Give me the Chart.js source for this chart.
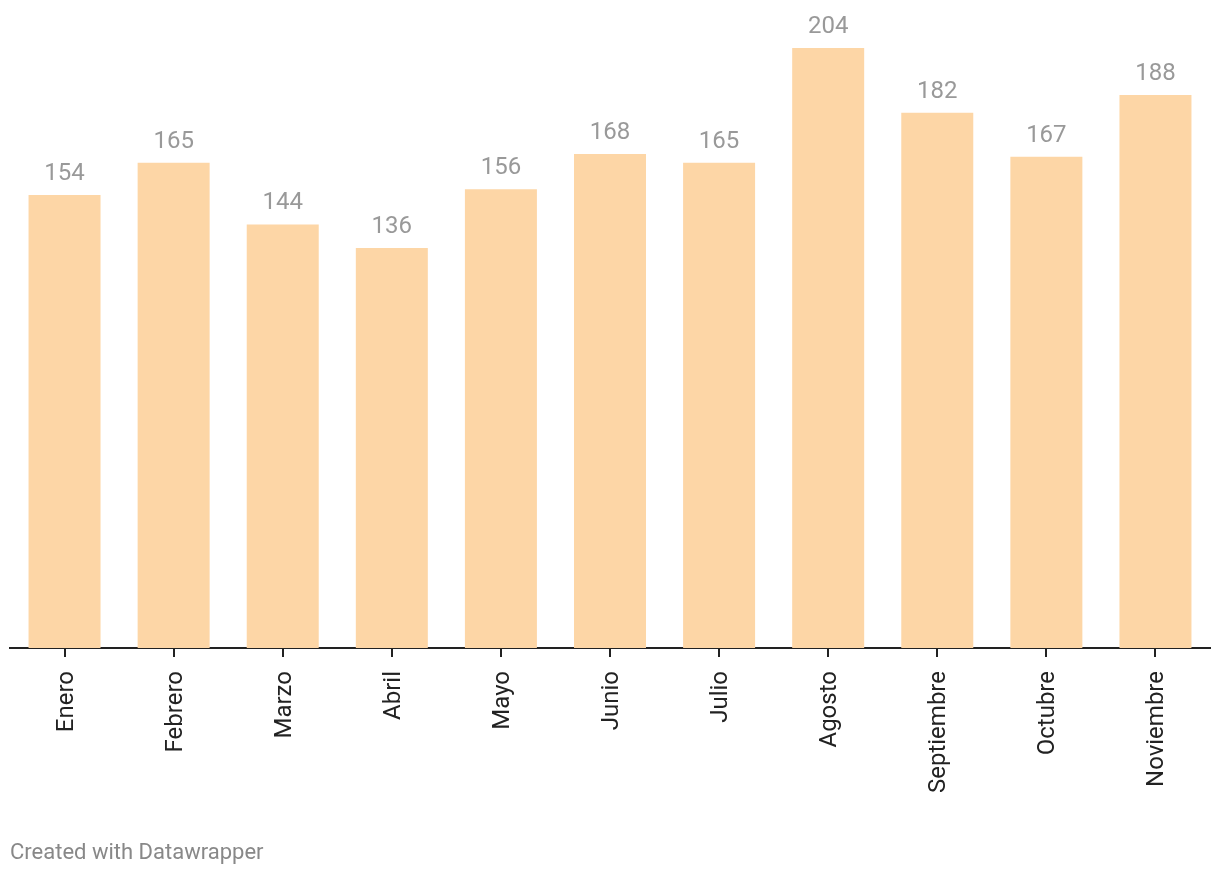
<!DOCTYPE html>
<html lang="es">
<head>
    <meta charset="UTF-8" />
    <title>Datawrapper bar chart</title>
    <script src="https://cdn.jsdelivr.net/npm/chart.js"></script>
    <style>
        body { margin: 0; background: #fff; font-family: 'Roboto', sans-serif; }
        #wrap { position: relative; width: 1220px; height: 876px; }
        #footer { position: absolute; left: 10px; top: 838px; font-size: 22px; line-height: 28px; color: #888; }
    </style>
</head>
<body>
<div id="wrap">
    <canvas id="chart" width="1220" height="876"></canvas>
    <div id="footer">Created with Datawrapper</div>
</div>
<script>
    const months = ['Enero', 'Febrero', 'Marzo', 'Abril', 'Mayo', 'Junio', 'Julio', 'Agosto', 'Septiembre', 'Octubre', 'Noviembre'];
    const values = [154, 165, 144, 136, 156, 168, 165, 204, 182, 167, 188];

    // value labels above each bar
    const valueLabels = {
        id: 'valueLabels',
        afterDatasetsDraw(chart) {
            const ctx = chart.ctx;
            const meta = chart.getDatasetMeta(0);
            ctx.save();
            ctx.font = '24px Roboto';
            ctx.fillStyle = '#999';
            ctx.textAlign = 'center';
            ctx.textBaseline = 'alphabetic';
            meta.data.forEach((bar, i) => {
                ctx.fillText(values[i], bar.x, bar.y - 15);
            });
            ctx.restore();
        }
    };

    new Chart(document.getElementById('chart'), {
        type: 'bar',
        data: {
            labels: months,
            datasets: [{
                data: values,
                backgroundColor: '#fdd6a6',
                categoryPercentage: 1,
                barPercentage: 0.66
            }]
        },
        options: {
            responsive: false,
            animation: false,
            layout: { padding: { top: 48, left: 10, right: 10, bottom: 0 } },
            plugins: { legend: { display: false }, tooltip: { enabled: false } },
            scales: {
                x: {
                    afterFit(scale) { scale.height = 228; },
                    grid: { drawOnChartArea: false, drawTicks: true, tickLength: 9, color: '#222', lineWidth: 2, offset: false },
                    border: { color: '#222', width: 2 },
                    ticks: {
                        color: '#222',
                        font: { family: 'Roboto', size: 24 },
                        minRotation: 90,
                        maxRotation: 90,
                        padding: 14,
                        labelOffset: 2
                    }
                },
                y: {
                    display: false,
                    min: 0,
                    max: 204
                }
            }
        },
        plugins: [valueLabels]
    });
</script>
</body>
</html>
